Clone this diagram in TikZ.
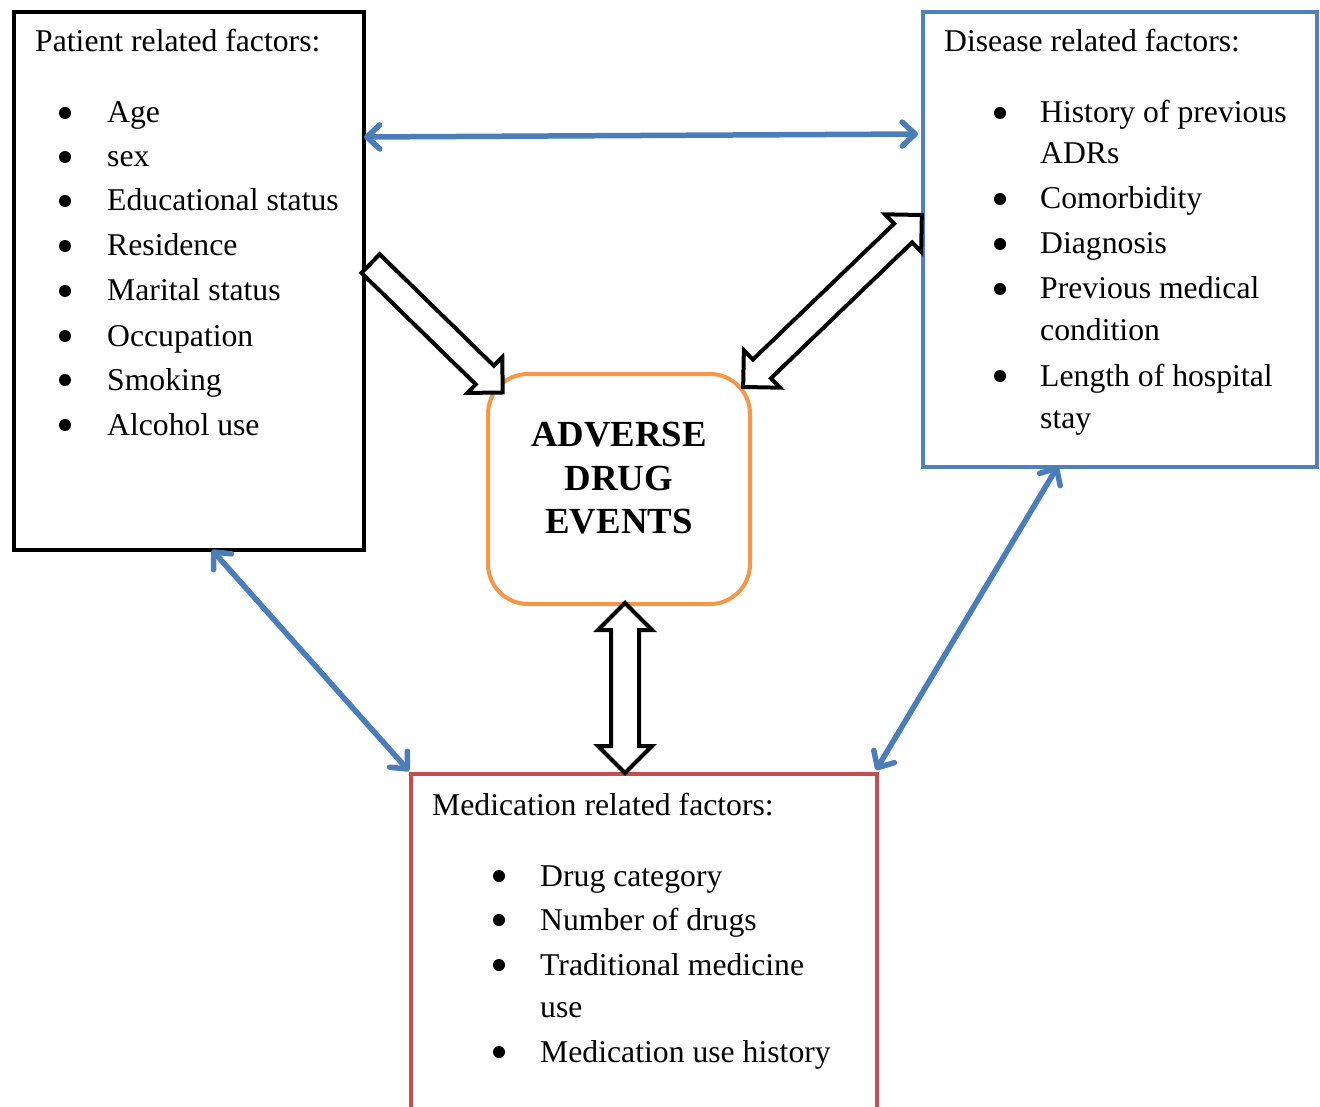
\documentclass[tikz,border=0pt]{standalone}
\usepackage{fontspec}
\setmainfont{Liberation Serif}
\usetikzlibrary{arrows.meta,shapes.arrows,calc}
\definecolor{boxblue}{HTML}{4F81BD}
\definecolor{arrblue}{HTML}{4A7EBB}
\definecolor{adeorange}{HTML}{F79646}
\definecolor{medred}{HTML}{C0504D}
\tikzset{
  frame/.style={draw, line width=4pt, inner sep=0pt, anchor=north west},
  txt/.style={anchor=base west, inner sep=0pt, font=\fontsize{31.7}{38}\selectfont},
  adetxt/.style={anchor=base, inner sep=0pt, font=\bfseries\fontsize{36.8}{43}\selectfont},
  bul/.style={circle, fill=black, inner sep=0pt, minimum size=12pt},
  blueconn/.style={draw=arrblue, line width=5.5pt,
    arrows={Straight Barb[length=13pt,width=24pt,round]-Straight Barb[length=13pt,width=24pt,round]}},
  sarrow/.style={single arrow, draw=black, fill=white, line width=4pt,
    inner xsep=0pt, inner ysep=11pt, minimum width=46pt,
    single arrow head extend=12pt, single arrow tip angle=90, single arrow head indent=0pt},
  darrow/.style={double arrow, draw=black, fill=white, line width=4pt,
    inner xsep=0pt, inner ysep=11pt, minimum width=48pt,
    double arrow head extend=13pt, double arrow tip angle=90, double arrow head indent=0pt},
}
\begin{document}
\begin{tikzpicture}[x=1pt,y=-1pt]
\useasboundingbox (0,0) rectangle (1320,1107);
\clip (0,0) rectangle (1320,1107);

% boxes
\node[frame, draw=black, minimum width=350pt, minimum height=538pt] (pat) at (12,10) {};
\node[frame, draw=boxblue, minimum width=394pt, minimum height=455pt] (dis) at (921,10) {};
\node[frame, draw=medred, minimum width=466pt, minimum height=400pt] (med) at (409,772) {};
\node[draw=adeorange, line width=4pt, rounded corners=40pt, inner sep=0pt,
      minimum width=262pt, minimum height=230pt] (ade) at (619,489) {};

% patient text
\node[txt] (pth) at (35,52) {Patient related factors:};
\foreach \t/\y [count=\i] in {Age/123, sex/167, Educational status/211, Residence/256,
    Marital status/301, Occupation/346, Smoking/390, Alcohol use/435} {
  \node[bul] (pb\i) at (65,\y-10) {};
  \node[txt] (pi\i) at (107,\y) {\t};
}

% disease text
\node[txt] (dth) at (944,52) {Disease related factors:};
\foreach \t/\y [count=\i] in {History of previous/123, Comorbidity/209, Diagnosis/254,
    Previous medical/299, Length of hospital/386} {
  \node[bul] (db\i) at (1000,\y-10) {};
  \node[txt] (di\i) at (1040,\y) {\t};
}
\node[txt] (dw1) at (1040,164) {ADRs};
\node[txt] (dw2) at (1040,341) {condition};
\node[txt] (dw3) at (1040,428) {stay};

% medication text
\node[txt] (mth) at (432,815) {Medication related factors:};
\foreach \t/\y [count=\i] in {Drug category/886, Number of drugs/930,
    Traditional medicine/975, Medication use history/1062} {
  \node[bul] (mb\i) at (499,\y-10) {};
  \node[txt] (mi\i) at (540,\y) {\t};
}
\node[txt] (mw1) at (540,1017) {use};

% ADE text
\node[adetxt] (a1) at (619,446) {ADVERSE};
\node[adetxt] (a2) at (619,490) {DRUG};
\node[adetxt] (a3) at (619,533) {EVENTS};

% blue connectors
\coordinate (t1) at (364,137);
\coordinate (t2) at (918,134);
\coordinate (l1) at (212,550);
\coordinate (l2) at (409,771);
\coordinate (r1) at (1058,466);
\coordinate (r2) at (876,770);
\draw[blueconn] (t1) -- (t2);
\draw[blueconn] (l1) -- (l2);
\draw[blueconn] (r1) -- (r2);

% block arrows
\coordinate (b1s) at (366,259);
\coordinate (b1e) at (498,388);
\node[sarrow, minimum height=184.6pt, rotate=-44.3] (ba1) at ($(b1s)!0.5!(b1e)$) {};
\coordinate (b2s) at (743,387);
\coordinate (b2e) at (922,215);
\node[darrow, minimum height=248pt, rotate=43.9] (ba2) at ($(b2s)!0.5!(b2e)$) {};
\coordinate (b3s) at (625,603);
\coordinate (b3e) at (625,773);
\node[darrow, inner ysep=12pt, minimum width=50pt, minimum height=170pt, rotate=90] (ba3) at ($(b3s)!0.5!(b3e)$) {};
\end{tikzpicture}
\end{document}
